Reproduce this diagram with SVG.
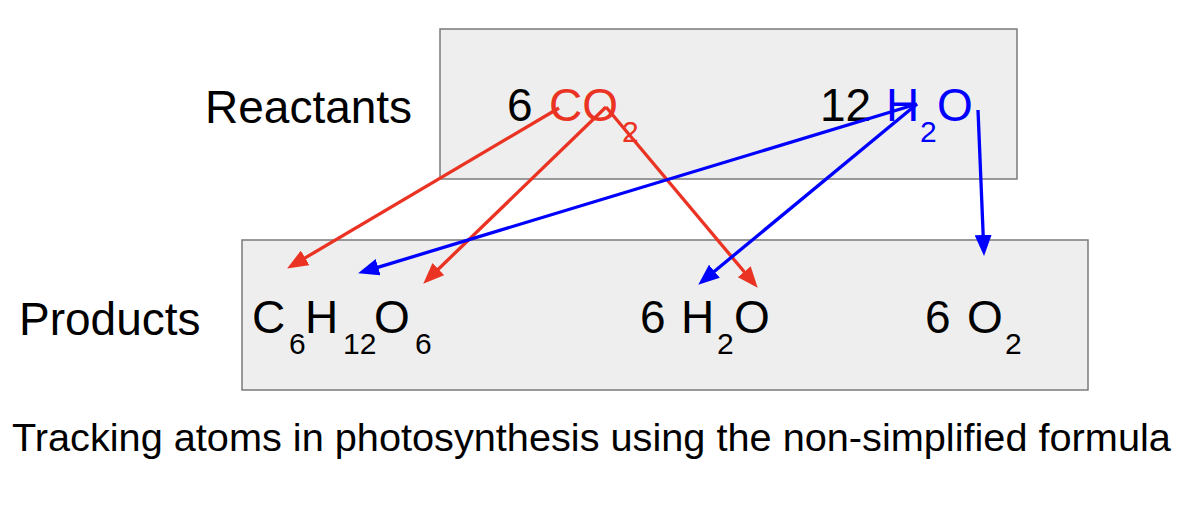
<svg xmlns="http://www.w3.org/2000/svg" width="1196" height="508" viewBox="0 0 1196 508">
<style>
text{font-family:"Liberation Sans",Arial,sans-serif;fill:#000}
.big{font-size:46px}
.sub{font-size:30px}
.red{fill:#ea3323}
.blue{fill:#0000ff}
.box{fill:#eeeeee;stroke:#7a7a7a;stroke-width:1.5}
.r{stroke:#ea3323;stroke-width:3.3;fill:none}
.b{stroke:#0000ff;stroke-width:3.3;fill:none}
</style>
<defs>
<marker id="ar" markerUnits="userSpaceOnUse" markerWidth="21" markerHeight="17" refX="3" refY="8.5" orient="auto" viewBox="0 0 21 17"><path d="M0,0 L21,8.5 L0,17 z" fill="#ea3323"/></marker>
<marker id="ab" markerUnits="userSpaceOnUse" markerWidth="21" markerHeight="17" refX="3" refY="8.5" orient="auto" viewBox="0 0 21 17"><path d="M0,0 L21,8.5 L0,17 z" fill="#0000ff"/></marker>
</defs>
<rect width="1196" height="508" fill="#ffffff"/>
<g id="reactants">
<rect class="box" x="440" y="29" width="577" height="150"/>
<text class="big" x="205" y="123">Reactants</text>
<text class="big" x="507" y="121">6</text>
<text class="big red" x="549" y="121">CO</text>
<text class="sub red" x="622" y="142">2</text>
<text class="big" x="820" y="121">12</text>
<text class="big blue" x="886" y="121">H</text>
<text class="sub blue" x="920" y="142">2</text>
<text class="big blue" x="937" y="121">O</text>
</g>
<g id="products">
<rect class="box" x="242" y="240" width="846" height="150"/>
<text class="big" x="19" y="335">Products</text>
<text class="big" x="252" y="333">C</text>
<text class="sub" x="289" y="354">6</text>
<text class="big" x="305" y="333">H</text>
<text class="sub" x="343" y="354">12</text>
<text class="big" x="374" y="333">O</text>
<text class="sub" x="415" y="354">6</text>
<text class="big" x="640" y="333">6</text>
<text class="big" x="681" y="333">H</text>
<text class="sub" x="717" y="354">2</text>
<text class="big" x="734" y="333">O</text>
<text class="big" x="925" y="333">6</text>
<text class="big" x="967" y="333">O</text>
<text class="sub" x="1005" y="354">2</text>
</g>
<g id="connectors">
<path class="r" d="M559,108 L302.6,259.4" marker-end="url(#ar)"/>
<path class="r" d="M606,107 L436.2,271.2" marker-end="url(#ar)"/>
<path class="r" d="M606,107 L746.1,274" marker-end="url(#ar)"/>
<path class="b" d="M917,104 L375.3,268.1" marker-end="url(#ab)"/>
<path class="b" d="M917,104 L712.1,273.2" marker-end="url(#ab)"/>
<path class="b" d="M978,110 L983.3,238" marker-end="url(#ab)"/>
</g>
<text id="caption" x="12" y="451" font-size="39.7">Tracking atoms in photosynthesis using the non-simplified formula</text>
</svg>
